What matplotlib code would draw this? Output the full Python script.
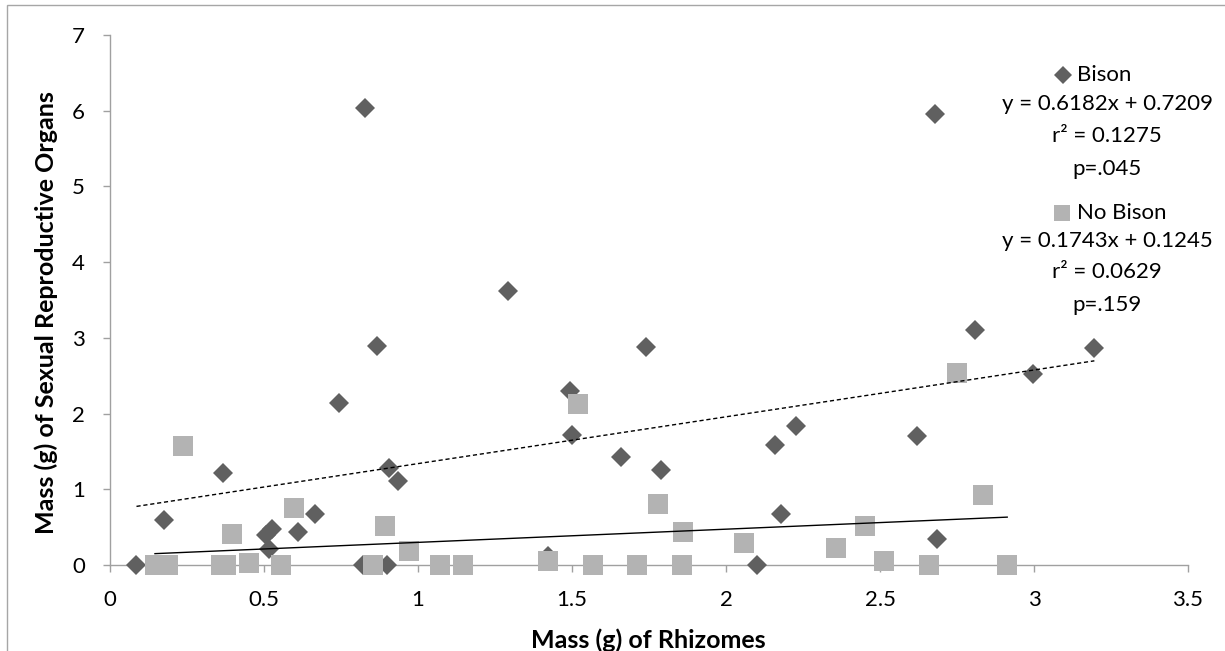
import numpy as np
import matplotlib.pyplot as plt
from matplotlib.lines import Line2D
from matplotlib.patches import Rectangle

plt.rcParams['font.family'] = ['Lato', 'DejaVu Sans']

# Bison plots (diamonds)
bison_x = [0.086, 0.176, 0.366, 0.505, 0.525, 0.517, 0.61, 0.666, 0.745, 0.822,
           0.828, 0.868, 0.90, 0.907, 0.936, 1.293, 1.423, 1.494, 1.50, 1.66,
           1.739, 1.788, 2.10, 2.16, 2.18, 2.226, 2.62, 2.677, 2.686, 2.81,
           2.998, 3.196]
bison_y = [0.0, 0.59, 1.21, 0.40, 0.48, 0.21, 0.44, 0.68, 2.14, 0.0,
           6.03, 2.89, 0.0, 1.28, 1.11, 3.62, 0.12, 2.30, 1.72, 1.42,
           2.88, 1.25, 0.0, 1.59, 0.68, 1.83, 1.70, 5.96, 0.34, 3.10,
           2.52, 2.86]

# No bison plots (squares)
nobison_x = [0.146, 0.188, 0.238, 0.362, 0.378, 0.395, 0.45, 0.555, 0.596, 0.853,
             0.893, 0.972, 1.071, 1.145, 1.423, 1.52, 1.567, 1.71, 1.778, 1.858,
             1.859, 2.057, 2.356, 2.452, 2.513, 2.658, 2.749, 2.833, 2.913]
nobison_y = [0.0, 0.0, 1.57, 0.0, 0.0, 0.41, 0.02, 0.0, 0.75, 0.0,
             0.52, 0.19, 0.0, 0.0, 0.05, 2.13, 0.0, 0.0, 0.80, 0.0,
             0.43, 0.29, 0.22, 0.51, 0.05, 0.0, 2.54, 0.93, 0.0]

# Fitted lines (slope, intercept) as printed on the chart
bison_fit = [0.6182, 0.7209]
nobison_fit = [0.1743, 0.1245]

bison_text = ["Bison", "y = 0.6182x + 0.7209", "r\u00b2 = 0.1275", "p=.045"]
nobison_text = ["No Bison", "y = 0.1743x + 0.1245", "r\u00b2 = 0.0629", "p=.159"]

dark = '#606060'
light = '#b3b3b3'
W, H = 1225, 651

fig = plt.figure(figsize=(W / 100, H / 100), dpi=100)
ax = fig.add_axes([110 / W, 1 - 565 / H, (1188 - 110) / W, (565 - 35) / H])

# Chart area border
fig.add_artist(Rectangle((7 / W, -0.1), 1.2, 1 - 5 / H + 0.1, transform=fig.transFigure,
                         fill=False, edgecolor='#a6a6a6', lw=1.0))

ax.plot(bison_x, bison_y, 'D', color=dark, markersize=10, markeredgewidth=0, zorder=3, clip_on=False)
ax.plot(nobison_x, nobison_y, 's', color=light, markersize=14, markeredgewidth=0, zorder=4, clip_on=False)

# Trendlines
bx = np.array([min(bison_x), max(bison_x)])
ax.plot(bx, bison_fit[0] * bx + bison_fit[1], color='black', lw=1.0, dashes=(3, 2), zorder=5)
nx = np.array([min(nobison_x), max(nobison_x)])
ax.plot(nx, nobison_fit[0] * nx + nobison_fit[1], color='black', lw=1.0, zorder=5)

ax.set_xlim(0, 3.5)
ax.set_ylim(0, 7)
ax.set_xticks(np.arange(0, 3.51, 0.5))
ax.set_xticklabels(['0', '0.5', '1', '1.5', '2', '2.5', '3', '3.5'])
ax.set_yticks(range(8))

for s in ['top', 'right']:
    ax.spines[s].set_visible(False)
for s in ['left', 'bottom']:
    ax.spines[s].set_color('#a0a0a0')
    ax.spines[s].set_linewidth(1.0)
ax.tick_params(axis='both', colors='#a0a0a0', labelcolor='black', length=5, width=1.0, labelsize=16)
ax.tick_params(axis='x', pad=13)
ax.tick_params(axis='y', pad=13)

ax.set_xlabel('Mass (g) of Rhizomes', fontsize=18, fontweight='bold', va='top')
ax.xaxis.set_label_coords(0.499, (565 - 628) / 530)
ax.set_ylabel('Mass (g) of Sexual Reproductive Organs', fontsize=18, fontweight='bold')
ax.yaxis.set_label_coords((58 - 110) / 1078, (565 - 313) / 530)

# Legend-like text block
cx = 1107 / W
ys = [75, 104, 136, 169, 213, 241, 272, 305]
lines = bison_text + nobison_text
for i, (t, y) in enumerate(zip(lines, ys)):
    if i in (0, 4):
        fig.text(1077 / W, 1 - y / H, t, fontsize=16, ha='left', va='center')
    else:
        fig.text(cx, 1 - y / H, t, fontsize=16, ha='center', va='center')
fig.add_artist(Line2D([1063 / W], [1 - 75 / H], marker='D', color=dark, markersize=9,
                      markeredgewidth=0, transform=fig.transFigure))
fig.add_artist(Line2D([1062 / W], [1 - 213 / H], marker='s', color=light, markersize=12,
                      markeredgewidth=0, transform=fig.transFigure))

fig.savefig('out.png', dpi=100)
